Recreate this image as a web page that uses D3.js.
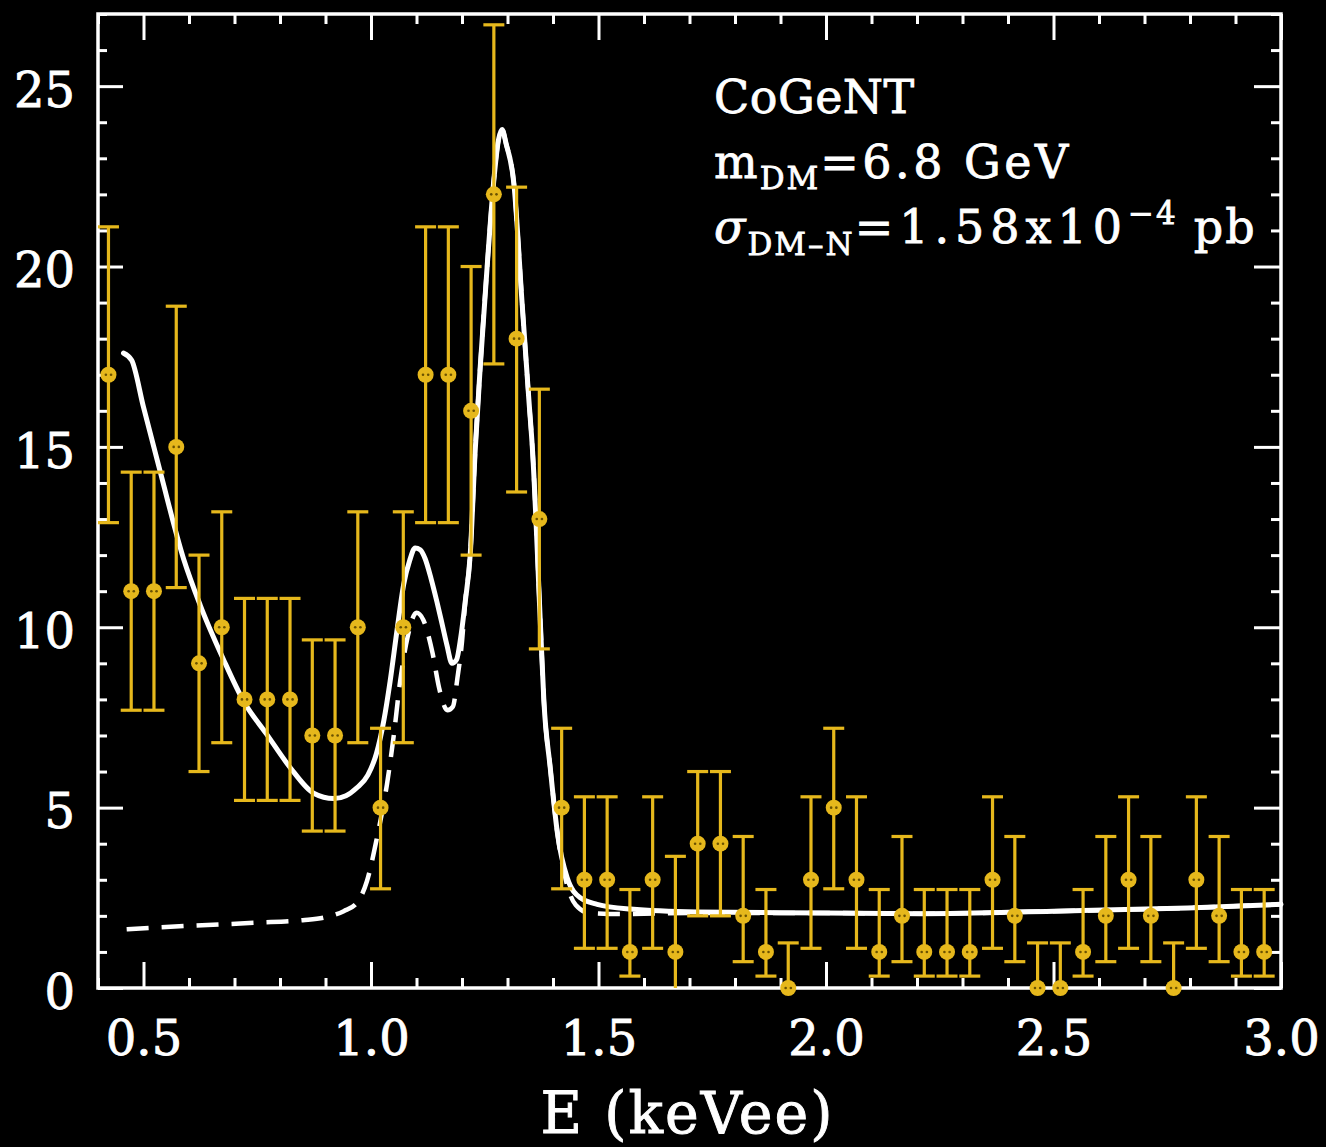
<!DOCTYPE html>
<html>
<head>
<meta charset="utf-8">
<script src="https://cdn.jsdelivr.net/npm/d3@7"></script>
<style>
    html, body { margin: 0; padding: 0; background: #000; }
    svg { display: block; }
</style>
</head>
<body>
<svg id="chart" width="1326" height="1147"></svg>
<script>
"use strict";

/* global d3 */

// CoGeNT spectrum: counts per ~0.05 keVee bin
var binEnergies = [0.423, 0.473, 0.523, 0.572, 0.622, 0.672, 0.722, 0.772, 0.822, 0.871,
                   0.921, 0.971, 1.021, 1.071, 1.120, 1.170, 1.220, 1.270, 1.320, 1.370,
                   1.419, 1.469, 1.519, 1.569, 1.619, 1.669, 1.718, 1.768, 1.818, 1.868,
                   1.917, 1.967, 2.017, 2.067, 2.117, 2.167, 2.216, 2.266, 2.316, 2.366,
                   2.415, 2.465, 2.515, 2.565, 2.615, 2.665, 2.714, 2.764, 2.814, 2.864,
                   2.913, 2.963];
var binCounts = [17, 11, 11, 15, 9, 10, 8, 8, 8, 7,
                 7, 10, 5, 10, 17, 17, 16, 22, 18, 13,
                 5, 3, 3, 1, 3, 1, 4, 4, 2, 1,
                 0, 3, 5, 3, 1, 2, 1, 1, 1, 3,
                 2, 0, 0, 1, 2, 3, 2, 0, 3, 2,
                 1, 1];
var binLow = [12.9, 7.7, 7.7, 11.1, 6.0, 6.8, 5.2, 5.2, 5.2, 4.35,
              4.35, 6.8, 2.75, 6.8, 12.9, 12.9, 12.0, 17.3, 13.75, 9.4,
              2.75, 1.1, 1.1, 0.33, 1.1, 0, 2.0, 2.0, 0.73, 0.33,
              0, 1.1, 2.75, 1.1, 0.33, 0.73, 0.33, 0.33, 0.33, 1.1,
              0.73, 0, 0, 0.33, 0.73, 1.1, 0.73, 0, 1.1, 0.73,
              0.33, 0.33];
var binHigh = [21.1, 14.3, 14.3, 18.9, 12.0, 13.2, 10.8, 10.8, 10.8, 9.65,
               9.65, 13.2, 7.2, 13.2, 21.1, 21.1, 20.0, 26.7, 22.2, 16.6,
               7.2, 5.3, 5.3, 2.73, 5.3, 3.65, 6.0, 6.0, 4.2, 2.73,
               1.25, 5.3, 7.2, 5.3, 2.73, 4.2, 2.73, 2.73, 2.73, 5.3,
               4.2, 1.25, 1.25, 2.73, 4.2, 5.3, 4.2, 1.25, 5.3, 4.2,
               2.73, 2.73];

// fitted spectrum, background + DM (solid)
var totalCurveE = [0.456, 0.474, 0.50, 0.537, 0.588, 0.625, 0.676, 0.72, 0.771, 0.823,
                   0.874, 0.918, 0.945, 0.969, 0.993, 1.012, 1.028, 1.042, 1.057, 1.072,
                   1.085, 1.097, 1.108, 1.119, 1.132, 1.145, 1.157, 1.167, 1.178, 1.188,
                   1.197, 1.207, 1.218, 1.229, 1.24, 1.255, 1.27, 1.28, 1.288, 1.297,
                   1.314, 1.332, 1.347, 1.355, 1.373, 1.38, 1.394, 1.41, 1.431, 1.46,
                   1.497, 1.57, 1.717, 2.0, 2.21, 2.5, 2.795, 3.0];
var totalCurveY = [17.6, 17.4, 16.1, 14.3, 11.9, 10.6, 9.1, 7.95, 7.03, 6.1,
                   5.4, 5.25, 5.33, 5.55, 5.9, 6.5, 7.4, 8.5, 9.9, 11.2,
                   11.85, 12.2, 12.15, 11.9, 11.35, 10.7, 10.05, 9.5, 9.0, 9.1,
                   9.7, 10.7, 12.0, 14.9, 17.2, 19.95, 22.4, 23.5, 23.8, 23.4,
                   22.3, 19.0, 16.3, 14.9, 9.9, 7.95, 6.1, 4.27, 3.06, 2.5,
                   2.32, 2.19, 2.11, 2.08, 2.06, 2.13, 2.22, 2.32];

// background only (dashed)
var bkgCurveE = [0.463, 0.592, 0.749, 0.85, 0.896, 0.94, 0.969, 0.991, 1.013, 1.035,
                 1.05, 1.064, 1.08, 1.10, 1.115, 1.135, 1.15, 1.168, 1.18, 1.19,
                 1.2, 1.207, 1.218, 1.229, 1.24, 1.255, 1.27, 1.28, 1.288, 1.297,
                 1.314, 1.332, 1.347, 1.355, 1.373, 1.38, 1.394, 1.41, 1.43, 1.45,
                 1.48, 1.55, 1.717, 2.0, 2.21, 2.5, 2.795, 3.0];
var bkgCurveY = [1.63, 1.72, 1.81, 1.88, 1.95, 2.13, 2.36, 2.96, 4.16, 5.64,
                 7.0, 8.5, 9.7, 10.4, 10.2, 9.3, 8.3, 7.7, 7.8, 8.6,
                 9.6, 10.7, 12.0, 14.9, 17.2, 19.95, 22.4, 23.5, 23.8, 23.4,
                 22.3, 19.0, 16.3, 14.9, 9.9, 7.95, 6.1, 4.27, 2.9, 2.3,
                 2.08, 2.05, 2.08, 2.08, 2.06, 2.13, 2.22, 2.32];

var xDomain = [0.4, 3.0];
var yDomain = [0, 27];
var xMajorTicks = [0.5, 1.0, 1.5, 2.0, 2.5, 3.0];
var yMajorTicks = [0, 5, 10, 15, 20, 25];
var xTitle = "E (keVee)";


/**
 * Draws the CoGeNT spectrum panel
 */
(function() {

    var frame = { left: 98, right: 1281, top: 14, bottom: 988 };
    var dataColor = "#e6b81c";
    var fontFamily = "'DejaVu Serif', serif";

    var svg = d3.select("#chart");

    svg.append("rect")
        .attr("width", 1326)
        .attr("height", 1147)
        .attr("fill", "#000");

    var xScale = d3.scaleLinear().domain(xDomain).range([frame.left, frame.right]);
    var yScale = d3.scaleLinear().domain(yDomain).range([frame.bottom, frame.top]);

    addAxes();
    addCurves();
    addDataPoints();
    addAnnotation();


    function addAxes() {

        var xMinor = d3.range(4, 31).map(function(d) { return d / 10; })
            .filter(function(d) { return Math.abs(d * 2 - Math.round(d * 2)) > 1e-6; });
        var yMinor = d3.range(0, 28).filter(function(d) { return d % 5 !== 0; });

        var axisGroup = svg.append("g").attr("id", "axesGroupId");

        var bottom = axisGroup.append("g")
            .attr("transform", "translate(0," + frame.bottom + ")")
            .call(d3.axisBottom(xScale).tickValues(xMajorTicks).tickSize(-26).tickSizeOuter(0)
                .tickFormat(d3.format(".1f")));
        bottom.selectAll("text")
            .attr("y", 67)
            .attr("dy", null);

        axisGroup.append("g")
            .attr("transform", "translate(0," + frame.bottom + ")")
            .call(d3.axisBottom(xScale).tickValues(xMinor).tickSize(-10).tickSizeOuter(0).tickFormat(""));

        axisGroup.append("g")
            .attr("transform", "translate(0," + frame.top + ")")
            .call(d3.axisTop(xScale).tickValues(xMajorTicks).tickSize(-26).tickSizeOuter(0).tickFormat(""));
        axisGroup.append("g")
            .attr("transform", "translate(0," + frame.top + ")")
            .call(d3.axisTop(xScale).tickValues(xMinor).tickSize(-10).tickSizeOuter(0).tickFormat(""));

        var left = axisGroup.append("g")
            .attr("transform", "translate(" + frame.left + ",0)")
            .call(d3.axisLeft(yScale).tickValues(yMajorTicks).tickSize(-25).tickSizeOuter(0).tickPadding(23));
        left.selectAll("text").attr("dy", "0.42em");

        axisGroup.append("g")
            .attr("transform", "translate(" + frame.left + ",0)")
            .call(d3.axisLeft(yScale).tickValues(yMinor).tickSize(-9).tickSizeOuter(0).tickFormat(""));

        axisGroup.append("g")
            .attr("transform", "translate(" + frame.right + ",0)")
            .call(d3.axisRight(yScale).tickValues(yMajorTicks).tickSize(-27).tickSizeOuter(0).tickFormat(""));
        axisGroup.append("g")
            .attr("transform", "translate(" + frame.right + ",0)")
            .call(d3.axisRight(yScale).tickValues(yMinor).tickSize(-10).tickSizeOuter(0).tickFormat(""));

        axisGroup.selectAll(".domain").remove();
        axisGroup.selectAll(".tick line")
            .attr("stroke", "#fff")
            .attr("stroke-width", 3);
        axisGroup.selectAll(".tick text")
            .attr("fill", "#fff")
            .attr("stroke", "#fff")
            .attr("stroke-width", 0.9)
            .attr("font-family", fontFamily)
            .attr("font-size", 48);

        axisGroup.append("rect")
            .attr("x", frame.left)
            .attr("y", frame.top)
            .attr("width", frame.right - frame.left)
            .attr("height", frame.bottom - frame.top)
            .attr("fill", "none")
            .attr("stroke", "#fff")
            .attr("stroke-width", 3.5);

        axisGroup.append("text")
            .attr("x", (frame.left + frame.right) / 2 - 2)
            .attr("y", 1133)
            .attr("text-anchor", "middle")
            .attr("font-family", fontFamily)
            .attr("font-size", 57)
            .attr("letter-spacing", 2)
            .attr("fill", "#fff")
            .attr("stroke", "#fff")
            .attr("stroke-width", 0.9)
            .text(xTitle);
    }


    function addCurves() {

        var line = d3.line()
            .x(function(d) { return xScale(d[0]); })
            .y(function(d) { return yScale(d[1]); })
            .curve(d3.curveMonotoneX);

        svg.append("path")
            .datum(d3.zip(bkgCurveE, bkgCurveY))
            .attr("d", line)
            .attr("fill", "none")
            .attr("stroke", "#fff")
            .attr("stroke-width", 4.5)
            .attr("stroke-dasharray", "22,13");

        svg.append("path")
            .datum(d3.zip(totalCurveE, totalCurveY))
            .attr("d", line)
            .attr("fill", "none")
            .attr("stroke", "#fff")
            .attr("stroke-width", 5)
            .attr("stroke-linejoin", "round")
            .attr("stroke-linecap", "round");
    }


    function addDataPoints() {

        var points = binEnergies.map(function(e, i) {
            return { e: e, n: binCounts[i], lo: binLow[i], hi: binHigh[i] };
        });
        var capHalf = 10.5;

        var pointGroup = svg.append("g").attr("id", "pointsGroupId")
            .attr("stroke", dataColor)
            .attr("stroke-width", 3.2);

        var bars = pointGroup.selectAll("g")
           .data(points)
           .enter()
           .append("g");

        bars.append("line")
            .attr("x1", function(d) { return xScale(d.e); })
            .attr("x2", function(d) { return xScale(d.e); })
            .attr("y1", function(d) { return yScale(d.lo); })
            .attr("y2", function(d) { return yScale(d.hi); });

        bars.append("line")
            .attr("x1", function(d) { return xScale(d.e) - capHalf; })
            .attr("x2", function(d) { return xScale(d.e) + capHalf; })
            .attr("y1", function(d) { return yScale(d.hi); })
            .attr("y2", function(d) { return yScale(d.hi); });

        bars.filter(function(d) { return d.lo > 0; })
            .append("line")
            .attr("x1", function(d) { return xScale(d.e) - capHalf; })
            .attr("x2", function(d) { return xScale(d.e) + capHalf; })
            .attr("y1", function(d) { return yScale(d.lo); })
            .attr("y2", function(d) { return yScale(d.lo); });

        bars.append("circle")
            .attr("cx", function(d) { return xScale(d.e); })
            .attr("cy", function(d) { return yScale(d.n); })
            .attr("r", 8)
            .attr("fill", dataColor)
            .attr("stroke", "none");

        // the little dark pips inside each symbol
        [-2.6, 2.6].forEach(function(dx) {
            bars.append("circle")
                .attr("cx", function(d) { return xScale(d.e) + dx; })
                .attr("cy", function(d) { return yScale(d.n); })
                .attr("r", 1.3)
                .attr("fill", "#6b5200")
                .attr("stroke", "none");
        });
    }


    function addAnnotation() {

        var note = svg.append("g")
            .attr("font-family", fontFamily)
            .attr("font-size", 46)
            .attr("fill", "#fff")
            .attr("stroke", "#fff")
            .attr("stroke-width", 0.8);

        note.append("text")
            .attr("x", 714)
            .attr("y", 113)
            .attr("letter-spacing", 0.5)
            .text("CoGeNT");

        var massLine = note.append("text").attr("x", 714).attr("y", 178).attr("letter-spacing", 2);
        massLine.append("tspan").text("m");
        massLine.append("tspan").attr("font-size", 31).attr("dy", 11).text("DM");
        massLine.append("tspan").attr("dy", -11).attr("letter-spacing", 3.5).text("=6.8 GeV");

        var xsecLine = note.append("text").attr("x", 714).attr("y", 243).attr("letter-spacing", 2);
        xsecLine.append("tspan").attr("font-style", "italic").text("\u03c3");
        xsecLine.append("tspan").attr("font-size", 31).attr("dy", 12).text("DM\u2013N");
        xsecLine.append("tspan").attr("dy", -12).attr("letter-spacing", 6).text("=1.58x10");
        xsecLine.append("tspan").attr("font-size", 31).attr("dy", -19).text("\u22124");
        xsecLine.append("tspan").attr("dy", 19).attr("dx", 16).text("pb");
    }

})();
</script>
</body>
</html>
